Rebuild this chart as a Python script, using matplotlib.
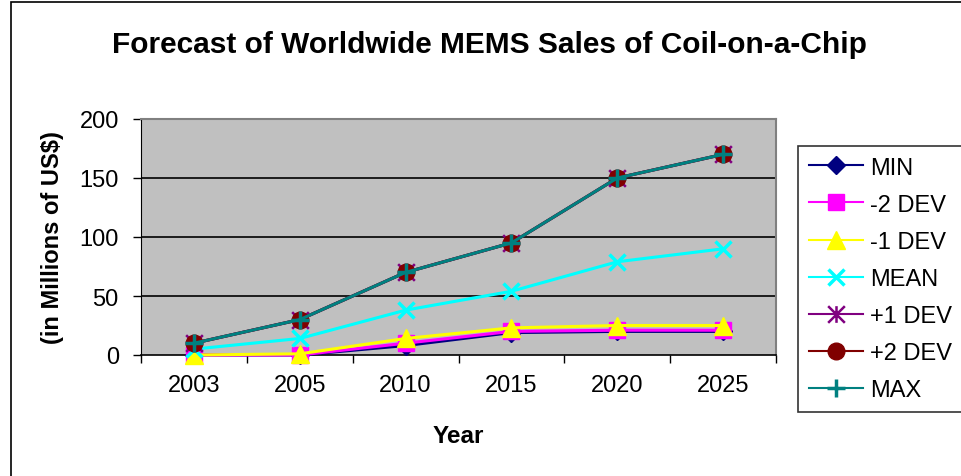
import matplotlib
matplotlib.use("Agg")
import matplotlib.pyplot as plt
from matplotlib.path import Path
from matplotlib.patches import Rectangle

plt.rcParams['font.family'] = ['Liberation Sans', 'DejaVu Sans']

years = ["2003", "2005", "2010", "2015", "2020", "2025"]
series_names = ["MIN", "-2 DEV", "-1 DEV", "MEAN", "+1 DEV", "+2 DEV", "MAX"]
vals_min = [0, 0, 8, 19, 20, 20]
vals_m2 = [0, 0, 10, 20, 21, 21]
vals_m1 = [0, 1, 14, 23, 25, 25]
vals_mean = [5, 14, 38, 54, 79, 90]
vals_p1 = [10, 30, 70, 95, 150, 170]
vals_p2 = [10, 30, 70, 95, 150, 170]
vals_max = [10, 30, 70, 95, 150, 170]
y_ticks = [0, 50, 100, 150, 200]

# asterisk marker: an X with a vertical stroke
asterisk = Path([(-1, -1), (1, 1), (-1, 1), (1, -1), (0, -1), (0, 1)],
                [Path.MOVETO, Path.LINETO, Path.MOVETO, Path.LINETO, Path.MOVETO, Path.LINETO])

styles = [
    dict(color="#000080", marker="D", ms=9, mfc="#000080", mec="#000080"),
    dict(color="#FF00FF", marker="s", ms=11, mfc="#FF00FF", mec="#FF00FF"),
    dict(color="#FFFF00", marker="^", ms=13, mfc="#FFFF00", mec="#FFFF00"),
    dict(color="#00FFFF", marker="x", ms=12, mfc="#00FFFF", mec="#00FFFF", mew=2.5),
    dict(color="#800080", marker=asterisk, ms=12, mec="#800080", mew=1.8),
    dict(color="#800000", marker="o", ms=12, mfc="#800000", mec="#800000"),
    dict(color="#008080", marker="+", ms=13, mec="#008080", mew=2.5),
]
all_vals = [vals_min, vals_m2, vals_m1, vals_mean, vals_p1, vals_p2, vals_max]

W, H = 961, 477
fig = plt.figure(figsize=(W / 100, H / 100), dpi=100)
fig.patch.set_facecolor("white")

# outer chart border (left and top edges visible)
fig.add_artist(Rectangle((11 / W, -0.2), 1.2, (H - 3) / H + 0.2, transform=fig.transFigure,
                         fill=False, edgecolor="black", linewidth=1.2))

ax = fig.add_axes([141 / W, 1 - 356 / H, (776 - 141) / W, (356 - 120) / H])
ax.set_facecolor("#C0C0C0")

x = list(range(len(years)))
for name, vals, st in zip(series_names, all_vals, styles):
    ax.plot(x, vals, linewidth=2.2, label=name, clip_on=False, zorder=3, **st)

ax.set_xlim(-0.5, len(years) - 0.5)
ax.set_ylim(0, 200)
ax.set_yticks(y_ticks)
ax.set_xticks(x)
ax.set_xticklabels(years)
ax.set_xticks([i - 0.5 for i in range(len(years) + 1)], minor=True)
ax.tick_params(axis="x", which="major", length=0, pad=14, labelsize=17)
ax.tick_params(axis="x", which="minor", length=6, width=1, direction="out")
ax.tick_params(axis="y", which="major", length=6, width=1, direction="out", pad=10, labelsize=17)

for yv in y_ticks[1:-1]:
    ax.axhline(yv, color="black", linewidth=1.2, zorder=1)

for side in ["top", "right"]:
    ax.spines[side].set_color("#808080")
    ax.spines[side].set_linewidth(1.5)
ax.spines["left"].set_color("black")
ax.spines["bottom"].set_color("black")
ax.spines["bottom"].set_linewidth(1.2)

ax.set_xlabel("Year", fontsize=17.5, fontweight="bold", labelpad=20)
ax.set_ylabel("(in Millions of US$)", fontsize=17, fontweight="bold", labelpad=11)

fig.text(489.5 / W, 1 - 45 / H, "Forecast of Worldwide MEMS Sales of Coil-on-a-Chip",
         ha="center", va="center", fontsize=21.5, fontweight="bold")

leg = ax.legend(loc="upper left", bbox_to_anchor=(798 / W, 1 - 147 / H),
                bbox_transform=fig.transFigure, frameon=True, fancybox=False,
                edgecolor="black", fontsize=17, handlelength=2.3, handletextpad=0.3,
                labelspacing=0.64, borderpad=0.45, borderaxespad=0)
leg.get_frame().set_linewidth(1.2)
for h in leg.legend_handles:
    h.set_linewidth(1.5)

fig.savefig("out.png", dpi=100)
